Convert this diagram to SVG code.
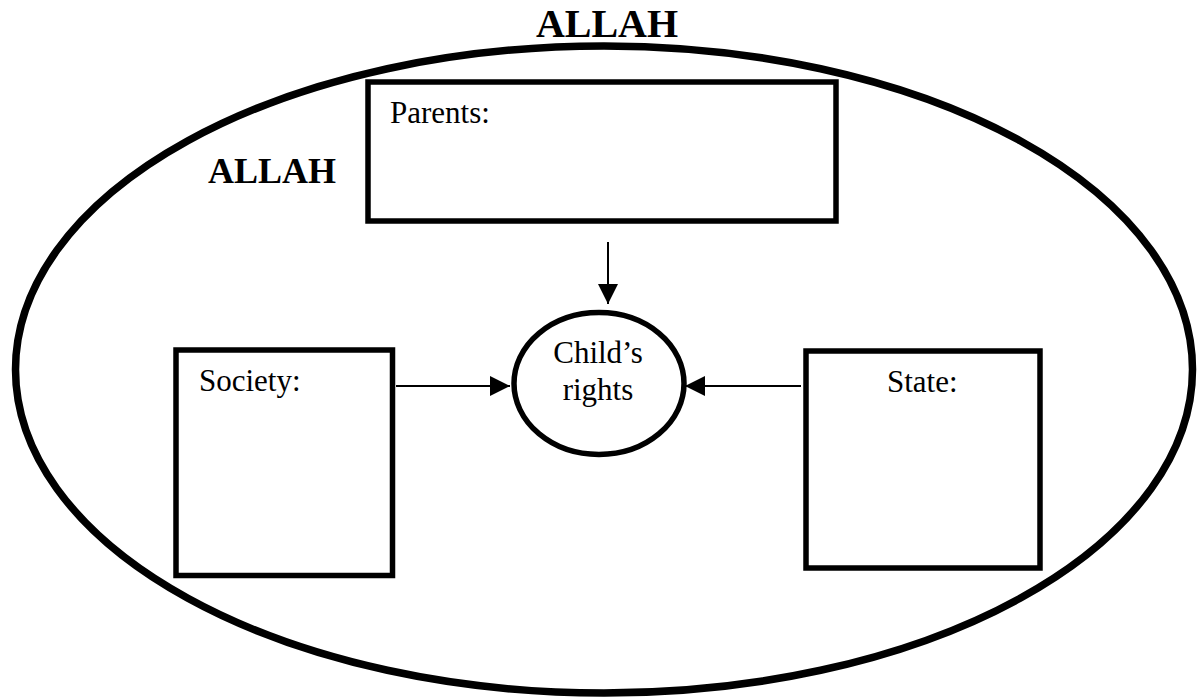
<svg xmlns="http://www.w3.org/2000/svg" width="1204" height="698" viewBox="0 0 1204 698">
<style>
.box{fill:#fff;stroke:#000;stroke-width:5.5}
.lbl{font-family:"Liberation Serif","Times New Roman",serif;font-size:31px;fill:#000}
.big{font-family:"Liberation Serif","Times New Roman",serif;font-weight:bold;fill:#000}
.conn{stroke:#000;stroke-width:2;fill:none}
</style>
<defs>
<marker id="arr" markerUnits="userSpaceOnUse" markerWidth="21" markerHeight="21" refX="20" refY="10" orient="auto">
<path d="M0,0 L20,10 L0,20 Z" fill="#000"/>
</marker>
</defs>
<rect width="1204" height="698" fill="#fff"/>
<g id="allah-outer">
<ellipse cx="604" cy="369.5" rx="588.5" ry="323.5" fill="none" stroke="#000" stroke-width="7.5"/>
<text class="big" x="607" y="37" font-size="40" text-anchor="middle">ALLAH</text>
</g>
<g id="allah-inner">
<text class="big" x="208" y="183" font-size="36">ALLAH</text>
</g>
<g id="parents">
<rect class="box" x="368" y="82" width="468" height="139"/>
<text class="lbl" x="390" y="123">Parents:</text>
</g>
<g id="society">
<rect class="box" x="176" y="350" width="216.5" height="225.5"/>
<text class="lbl" x="199" y="391">Society:</text>
</g>
<g id="state">
<rect class="box" x="806" y="351" width="234" height="217"/>
<text class="lbl" x="887" y="392">State:</text>
</g>
<g id="child-rights">
<ellipse cx="599" cy="383.5" rx="85" ry="71" fill="#fff" stroke="#000" stroke-width="5.5"/>
<text class="lbl" x="598" y="363" text-anchor="middle">Child’s</text>
<text class="lbl" x="598" y="400" text-anchor="middle">rights</text>
</g>
<g id="connectors">
<line class="conn" x1="608" y1="242" x2="608" y2="304" marker-end="url(#arr)"/>
<line class="conn" x1="396" y1="386" x2="510" y2="386" marker-end="url(#arr)"/>
<line class="conn" x1="801" y1="386" x2="685" y2="386" marker-end="url(#arr)"/>
</g>
</svg>
